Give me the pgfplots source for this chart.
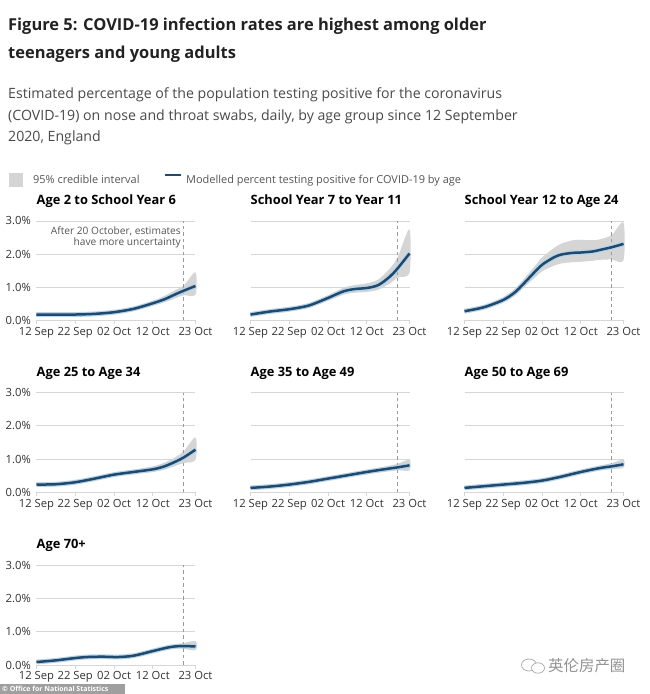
\documentclass[border=0pt]{standalone}
\usepackage{fontspec}
\setmainfont{Open Sans}
\newfontfamily\cjk{Noto Sans CJK SC}
\usepackage{pgfplots}
\usepackage{pgfplotstable}
\pgfplotsset{compat=1.18}

\definecolor{navy}{HTML}{1F4A6D}
\definecolor{halo}{HTML}{B7D4EA}
\definecolor{bandc}{HTML}{D5D5D5}
\definecolor{gridc}{HTML}{D6D6D6}
\definecolor{dashc}{HTML}{9A9A9A}
\definecolor{titc}{HTML}{222222}
\definecolor{subc}{HTML}{4A4A4A}
\definecolor{legc}{HTML}{555555}
\definecolor{tickc}{HTML}{333333}

% d = days since 12 Sep 2020; m = modelled percent testing positive
% band tables: upper 95% bound forward, then lower bound backward
\pgfplotstableread{
d m
0 0.18
5 0.18
10 0.18
15 0.20
20 0.25
25 0.35
30 0.52
33 0.64
36 0.80
38 0.90
41 1.04
}\mA
\pgfplotstableread{
d v
0 0.21
5 0.21
10 0.21
15 0.23
20 0.29
25 0.40
30 0.59
33 0.74
36 0.93
38 1.06
41 1.45
41 0.78
38 0.76
36 0.68
33 0.55
30 0.45
25 0.30
20 0.21
15 0.17
10 0.15
5 0.15
0 0.15
}\bA
\pgfplotstableread{
d m
0 0.18
5 0.27
10 0.34
15 0.45
20 0.68
24 0.88
27 0.95
30 0.98
33 1.07
36 1.33
38 1.58
41 2.02
}\mB
\pgfplotstableread{
d v
0 0.24
5 0.33
10 0.40
15 0.52
20 0.76
24 0.99
27 1.07
30 1.12
33 1.24
36 1.58
38 1.92
41 2.75
41 1.45
38 1.30
36 1.12
33 0.93
30 0.86
27 0.84
24 0.78
20 0.60
15 0.39
10 0.29
5 0.22
0 0.13
}\bB
\pgfplotstableread{
d m
0 0.28
5 0.40
10 0.62
13 0.85
15 1.08
18 1.45
20 1.68
23 1.90
25 1.99
28 2.04
30 2.05
33 2.08
35 2.13
38 2.21
41 2.31
}\mC
\pgfplotstableread{
d v
0 0.33
5 0.46
10 0.70
13 0.96
15 1.21
18 1.62
20 1.90
23 2.18
25 2.32
28 2.42
30 2.43
33 2.42
35 2.45
38 2.58
41 2.95
41 1.82
38 1.84
35 1.83
33 1.80
30 1.77
28 1.76
25 1.72
23 1.65
20 1.48
18 1.28
15 0.96
13 0.75
10 0.54
5 0.34
0 0.24
}\bC
\pgfplotstableread{
d m
0 0.23
5 0.24
10 0.30
15 0.41
20 0.53
25 0.61
30 0.69
33 0.78
36 0.93
38 1.05
41 1.28
}\mD
\pgfplotstableread{
d v
0 0.26
5 0.27
10 0.34
15 0.46
20 0.59
25 0.68
30 0.78
33 0.89
36 1.07
38 1.24
41 1.65
41 0.98
38 0.88
36 0.80
33 0.68
30 0.61
25 0.55
20 0.47
15 0.36
10 0.26
5 0.21
0 0.20
}\bD
\pgfplotstableread{
d m
0 0.13
5 0.17
10 0.23
15 0.31
20 0.41
25 0.51
30 0.61
35 0.70
38 0.75
41 0.81
}\mE
\pgfplotstableread{
d v
0 0.15
5 0.19
10 0.26
15 0.35
20 0.45
25 0.56
30 0.67
35 0.78
38 0.86
41 0.98
41 0.66
38 0.66
35 0.62
30 0.55
25 0.46
20 0.37
15 0.28
10 0.20
5 0.15
0 0.11
}\bE
\pgfplotstableread{
d m
0 0.13
5 0.18
10 0.23
15 0.28
20 0.35
25 0.47
30 0.61
35 0.73
38 0.78
41 0.84
}\mF
\pgfplotstableread{
d v
0 0.15
5 0.20
10 0.26
15 0.31
20 0.39
25 0.52
30 0.67
35 0.80
38 0.88
41 0.98
41 0.74
38 0.70
35 0.66
30 0.56
25 0.43
20 0.32
15 0.25
10 0.20
5 0.16
0 0.11
}\bF
\pgfplotstableread{
d m
0 0.09
5 0.14
10 0.21
13 0.24
17 0.25
21 0.24
25 0.28
30 0.42
34 0.53
37 0.57
41 0.56
}\mG
\pgfplotstableread{
d v
0 0.11
5 0.16
10 0.24
13 0.27
17 0.28
21 0.27
25 0.32
30 0.47
34 0.59
37 0.64
41 0.72
41 0.45
37 0.50
34 0.48
30 0.38
25 0.25
21 0.21
17 0.22
13 0.21
10 0.19
5 0.12
0 0.07
}\bG

\pgfplotsset{panel/.style={
  scale only axis, width=159bp, height=99.5bp, anchor=south west,
  xmin=0, xmax=41, ymin=0, ymax=3, clip=false,
  axis line style={draw=none},
  ymajorgrids, grid style={gridc, line width=0.9bp},
  xtick={0,10,20,30,41},
  xticklabels={12 Sep,22 Sep,02 Oct,12 Oct,23 Oct},
  ytick={0,1,2,3},
  tick align=outside, major tick length=4bp,
  xtick pos=lower, ytick pos=left,
  xtick style={draw=gridc, line width=0.9bp},
  ytick style={draw=none},
  xticklabel style={font=\fontsize{11.3}{12}\selectfont, text=tickc, inner sep=1bp, yshift=-1.5bp},
  yticklabel style={font=\fontsize{11.3}{12}\selectfont, text=tickc, inner sep=1.5bp},
}}

\newcommand{\panel}[6]{%
\begin{axis}[panel, at={(#1bp,#2bp)}, yticklabels={#6}]
  \addplot[fill=bandc, draw=none, smooth] table[x=d,y=v]{#4} -- cycle;
  \addplot[dashc, line width=0.8bp, dash pattern=on 3.5bp off 3bp] coordinates {(38,0) (38,3)};
  \addplot[halo, line width=4.8bp, smooth] table[x=d,y=m]{#3};
  \addplot[navy, line width=2.5bp, smooth] table[x=d,y=m]{#3};
\end{axis}
\node[anchor=base west, inner sep=0pt, font=\bfseries\fontsize{12.9}{14}\selectfont, text=black] at (#1bp,#2bp+116bp) {#5};}

\begin{document}
\begin{tikzpicture}
\useasboundingbox (0bp,0bp) rectangle (650bp,694bp);
\fill[white] (0bp,0bp) rectangle (650bp,694bp);

% panels
\panel{36.5}{373.5}{\mA}{\bA}{Age 2 to School Year 6}{0.0\%,1.0\%,2.0\%,3.0\%}
\panel{250.5}{373.5}{\mB}{\bB}{School Year 7 to Year 11}{}
\panel{464.5}{373.5}{\mC}{\bC}{School Year 12 to Age 24}{}
\panel{36.5}{201.8}{\mD}{\bD}{Age 25 to Age 34}{0.0\%,1.0\%,2.0\%,3.0\%}
\panel{250.5}{201.8}{\mE}{\bE}{Age 35 to Age 49}{}
\panel{464.5}{201.8}{\mF}{\bF}{Age 50 to Age 69}{}
\panel{36.5}{29}{\mG}{\bG}{Age 70+}{0.0\%,1.0\%,2.0\%,3.0\%}

\begin{scope}[x=1bp,y=1bp]
% header
\node[anchor=base west, inner sep=0pt, font=\bfseries\fontsize{16.5}{20}\selectfont, text=titc] at (8,663.3) {Figure 5: COVID-19 infection rates are highest among older};
\node[anchor=base west, inner sep=0pt, font=\bfseries\fontsize{16.5}{20}\selectfont, text=titc] at (8,635.3) {teenagers and young adults};
\node[anchor=base west, inner sep=0pt, font=\fontsize{14.2}{16}\selectfont, text=subc] at (8,595.3) {Estimated percentage of the population testing positive for the coronavirus};
\node[anchor=base west, inner sep=0pt, font=\fontsize{14.2}{16}\selectfont, text=subc] at (8,573.7) {(COVID-19) on nose and throat swabs, daily, by age group since 12 September};
\node[anchor=base west, inner sep=0pt, font=\fontsize{14.2}{16}\selectfont, text=subc] at (8,552.3) {2020, England};

% legend
\fill[bandc] (9,507) rectangle (23,521);
\node[anchor=base west, inner sep=0pt, font=\fontsize{11}{12}\selectfont, text=legc] at (33,510) {95\% credible interval};
\draw[navy, line width=2.5bp] (165,519) -- (181,519);
\node[anchor=base west, inner sep=0pt, font=\fontsize{11}{12}\selectfont, text=legc] at (186,510) {Modelled percent testing positive for COVID-19 by age};

% annotation
\node[anchor=north east, align=right, inner sep=0pt, font=\fontsize{10.2}{11}\selectfont, text=legc] at (181,467.5) {After 20 October, estimates\\have more uncertainty};

% watermark and credit
\draw[gray!70, line width=0.7bp] (529,29) ellipse (7.5 and 6);
\draw[gray!70, line width=0.7bp, fill=white] (538,26) ellipse (6.5 and 5.2);
\node[anchor=west, inner sep=0pt, font=\cjk\fontsize{15.5}{16}\selectfont, text=gray!85] at (548,28) {英伦房产圈};
\fill[gray!75] (0,0) rectangle (125,10);
\node[anchor=west, inner sep=0pt, font=\bfseries\fontsize{7}{8}\selectfont, text=white] at (2,5) {© Office for National Statistics};
\end{scope}
\end{tikzpicture}
\end{document}
